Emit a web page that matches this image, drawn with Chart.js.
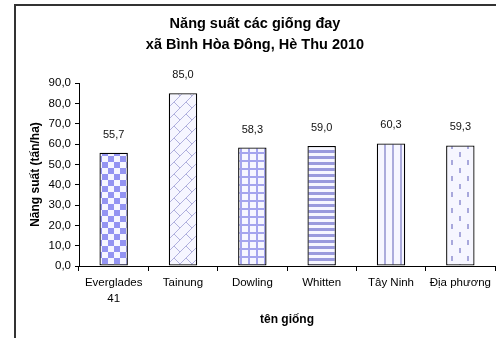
<!DOCTYPE html>
<html>
<head>
<meta charset="utf-8">
<script src="https://cdn.jsdelivr.net/npm/chart.js@4/dist/chart.umd.min.js"></script>
<style>
  html, body { margin: 0; padding: 0; background: #fff; }
  #wrap { width: 496px; height: 338px; }
</style>
</head>
<body>
<div id="wrap"><canvas id="yieldChart" width="496" height="338"></canvas></div>
<script>
// data
var varieties = [['Everglades', '41'], 'Tainung', 'Dowling', 'Whitten', 'Tây Ninh', 'Địa phương']
var yields = [55.7, 85.0, 58.3, 59.0, 60.3, 59.3]
var yTicks = [0, 10, 20, 30, 40, 50, 60, 70, 80, 90]

function fmt(v) {
    return v.toFixed(1).replace('.', ',')
}

// fill patterns for the bars
function makePattern(w, h, draw) {
    var c = document.createElement('canvas')
    c.width = w
    c.height = h
    var g = c.getContext('2d')
    g.fillStyle = '#f6f6ff'
    g.fillRect(0, 0, w, h)
    draw(g)
    return document.createElement('canvas').getContext('2d').createPattern(c, 'repeat')
}

var checker = makePattern(12, 12, function (g) {
    g.fillStyle = '#9494f2'
    g.fillRect(0, 0, 6, 6)
    g.fillRect(6, 6, 6, 6)
})
// diagonal brick
var brick = makePattern(12, 12, function (g) {
    g.strokeStyle = '#b0b0de'
    g.lineWidth = 1
    g.beginPath()
    g.moveTo(-1, 13); g.lineTo(13, -1)
    g.moveTo(-13, 13); g.lineTo(1, -1)
    g.moveTo(11, 13); g.lineTo(25, -1)
    g.moveTo(6, 6); g.lineTo(12, 12)
    g.stroke()
})
var grid = makePattern(8, 8, function (g) {
    g.fillStyle = '#a4a4ee'
    g.fillRect(0, 0, 2, 8)
    g.fillRect(0, 0, 8, 2)
})
var hstripe = makePattern(6, 6, function (g) {
    g.fillStyle = '#9a9add'
    g.fillRect(0, 0, 6, 3)
})
var vstripe = makePattern(8, 8, function (g) {
    g.fillStyle = '#ababdc'
    g.fillRect(0, 0, 2, 8)
})
var dashed = makePattern(16, 16, function (g) {
    g.fillStyle = '#a8a8dc'
    g.fillRect(3, 0, 2, 5)
    g.fillRect(11, 8, 2, 5)
})

// frame around the chart + value labels
var framePlugin = {
    id: 'frame',
    beforeDraw: function (chart) {
        var ctx = chart.ctx
        ctx.save()
        ctx.strokeStyle = '#333'
        ctx.lineWidth = 2
        ctx.beginPath()
        ctx.moveTo(15, 338)
        ctx.lineTo(15, 5)
        ctx.lineTo(496, 5)
        ctx.stroke()
        ctx.restore()
    }
}
var valuePlugin = {
    id: 'values',
    afterDatasetsDraw: function (chart) {
        var ctx = chart.ctx
        var meta = chart.getDatasetMeta(0)
        ctx.save()
        ctx.font = "11px 'Liberation Sans', Arial, sans-serif"
        ctx.fillStyle = '#111'
        ctx.textAlign = 'center'
        ctx.textBaseline = 'middle'
        meta.data.forEach(function (bar, i) {
            ctx.fillText(fmt(yields[i]), bar.x, bar.y - 18)
        })
        ctx.restore()
    }
}

Chart.defaults.font.family = "'Liberation Sans', Arial, sans-serif"
Chart.defaults.color = '#000'

var ctx = document.getElementById('yieldChart')
var yieldChart = new Chart(ctx, {
    type: 'bar',
    data: {
        labels: varieties,
        datasets: [
            {
                data: yields,
                backgroundColor: [checker, brick, grid, hstripe, vstripe, dashed],
                borderColor: '#000',
                borderWidth: 1.3,
                borderSkipped: false,
                barPercentage: 0.41,
                categoryPercentage: 1
            }
        ]
    },
    options: {
        responsive: false,
        animation: false,
        devicePixelRatio: 1,
        layout: {
            padding: { left: 15, right: 1, top: 0, bottom: 0 }
        },
        plugins: {
            legend: { display: false },
            tooltip: { enabled: false },
            title: {
                display: true,
                text: ['Năng suất các giống đay', 'xã Bình Hòa Đông, Hè Thu 2010'],
                font: { size: 14.5, weight: 'bold', lineHeight: 1.45 },
                color: '#000',
                padding: { top: 13, bottom: 28 }
            }
        },
        scales: {
            x: {
                offset: true,
                grid: {
                    offset: true,
                    drawOnChartArea: false,
                    color: '#000',
                    tickLength: 5
                },
                border: { color: '#000', width: 1 },
                ticks: {
                    font: { size: 11.5, lineHeight: 1.4 },
                    padding: 4,
                    maxRotation: 0,
                    autoSkip: false
                },
                title: {
                    display: true,
                    text: 'tên giống',
                    font: { size: 12, weight: 'bold' },
                    padding: { top: 0, bottom: 10.8 }
                },
                afterFit: function (s) { s.height = 72 }
            },
            y: {
                min: 0,
                max: 90,
                afterBuildTicks: function (s) {
                    s.ticks = yTicks.map(function (v) { return { value: v } })
                },
                grid: {
                    drawOnChartArea: false,
                    color: '#000',
                    tickLength: 4
                },
                border: { color: '#000', width: 1 },
                ticks: {
                    font: { size: 11.5 },
                    padding: 4,
                    callback: function (v) { return fmt(v) }
                },
                title: {
                    display: true,
                    text: 'Năng suất (tấn/ha)',
                    font: { size: 12, weight: 'bold' },
                    padding: { top: 13.8, bottom: 0 }
                },
                afterFit: function (s) { s.width = 64 }
            }
        }
    },
    plugins: [framePlugin, valuePlugin]
})
</script>
</body>
</html>
